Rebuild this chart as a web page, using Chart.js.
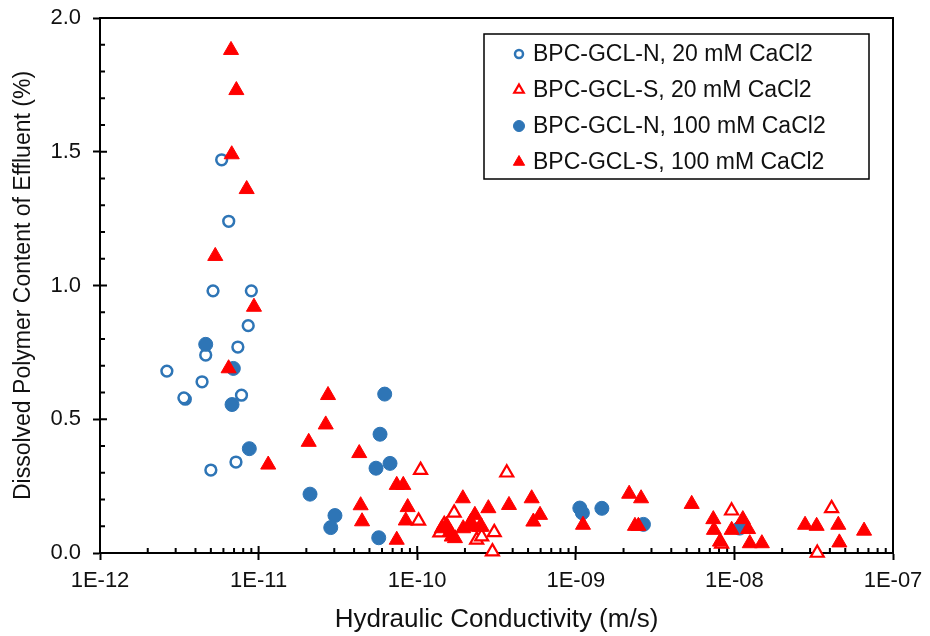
<!DOCTYPE html>
<html>
<head>
<meta charset="utf-8">
<script src="https://cdn.jsdelivr.net/npm/chart.js@4.4.1/dist/chart.umd.min.js"></script>
<style>
  html,body{margin:0;padding:0;background:#fff}
</style>
</head>
<body>
<canvas id="chart" width="930" height="636"></canvas>
<script>
// axis ticks
const xTickValues = [1e-12, 1e-11, 1e-10, 1e-9, 1e-8, 1e-7]
const xTickLabels = ["1E-12", "1E-11", "1E-10", "1E-09", "1E-08", "1E-07"]
const yTickValues = [0, 0.5, 1, 1.5, 2]
const yTickLabels = ["0.0", "0.5", "1.0", "1.5", "2.0"]

const seriesNames = [
  "BPC-GCL-N, 20 mM CaCl2",
  "BPC-GCL-S, 20 mM CaCl2",
  "BPC-GCL-N, 100 mM CaCl2",
  "BPC-GCL-S, 100 mM CaCl2"
]

// BPC-GCL-N, 20 mM
const n20K = [5.85e-12, 6.48e-12, 5.16e-12, 9.0e-12, 8.6e-12, 7.4e-12, 4.64e-12, 2.64e-12, 4.4e-12, 3.45e-12, 3.38e-12, 7.8e-12, 5.0e-12, 7.2e-12]
const n20P = [1.47, 1.24, 0.98, 0.98, 0.85, 0.77, 0.74, 0.68, 0.64, 0.575, 0.58, 0.59, 0.31, 0.34]

// BPC-GCL-S, 20 mM
const s20K = [1.05e-10, 3.67e-10, 1.71e-10, 1.02e-10, 3.06e-10, 1.48e-10, 1.39e-10, 2.37e-10, 2.55e-10, 2.98e-10, 2.49e-10, 9.6e-9, 8.3e-9, 3.33e-8, 4.1e-8]
const s20P = [0.31, 0.30, 0.15, 0.12, 0.077, 0.107, 0.076, 0.049, 0.061, 0.005, 0.098, 0.158, 0.034, 0.0, 0.167]

// BPC-GCL-N, 100 mM
const n100K = [4.64e-12, 6.93e-12, 6.8e-12, 8.74e-12, 2.11e-11, 3.03e-11, 2.85e-11, 5.72e-11, 6.24e-11, 5.83e-11, 5.5e-11, 6.74e-11, 1.06e-9, 1.1e-9, 1.46e-9, 2.67e-9, 1.08e-8]
const n100P = [0.78, 0.69, 0.555, 0.39, 0.22, 0.14, 0.095, 0.057, 0.594, 0.444, 0.317, 0.335, 0.168, 0.15, 0.167, 0.107, 0.093]

// BPC-GCL-S, 100 mM
const s100K = [6.70e-12, 7.24e-12, 6.77e-12, 8.41e-12, 5.33e-12, 9.35e-12, 6.47e-12, 1.15e-11, 2.74e-11, 2.65e-11, 2.07e-11, 4.31e-11, 4.40e-11, 4.49e-11,
  7.43e-11, 8.17e-11, 8.71e-11, 8.47e-11, 7.43e-11, 1.94e-10, 2.81e-10, 3.79e-10, 5.27e-10, 5.40e-10, 5.95e-10,
  1.43e-10, 1.53e-10, 1.61e-10, 1.65e-10, 1.73e-10, 1.95e-10, 2.18e-10, 2.31e-10, 2.23e-10, 2.55e-10,
  1.11e-9, 2.17e-9, 2.58e-9, 2.36e-9, 2.48e-9, 5.38e-9, 7.36e-9, 7.43e-9, 8.11e-9, 9.61e-9, 1.13e-8, 1.22e-8, 1.25e-8, 1.49e-8, 2.79e-8, 3.30e-8, 4.52e-8, 4.59e-8, 6.57e-8]
const s100P = [1.88, 1.73, 1.49, 1.36, 1.11, 0.92, 0.69, 0.33, 0.59, 0.48, 0.415, 0.373, 0.178, 0.118,
  0.254, 0.254, 0.171, 0.121, 0.049, 0.204, 0.167, 0.179, 0.204, 0.117, 0.142,
  0.092, 0.105, 0.080, 0.061, 0.055, 0.092, 0.117, 0.142, 0.098, 0.098,
  0.105, 0.221, 0.204, 0.101, 0.101, 0.183, 0.126, 0.086, 0.042, 0.086, 0.126, 0.089, 0.036, 0.036, 0.105, 0.101, 0.105, 0.039, 0.083]

const BLUE = "#2e75b6"
const RED = "#ff0000"
const TEXT = "#111"

Chart.defaults.font.family = "'Liberation Sans', Arial, sans-serif"

const pts = (xs, ys) => xs.map((x, i) => ({x: x, y: ys[i]}))

// inside minor ticks + top/right frame
const frame = {
  id: "frame",
  beforeDatasetsDraw(chart){
    const {ctx, chartArea: a, scales: {x, y}} = chart
    ctx.save()
    ctx.strokeStyle = "#000"
    ctx.lineWidth = 2
    ctx.beginPath()
    ctx.moveTo(a.left, a.top)
    ctx.lineTo(a.right, a.top)
    ctx.lineTo(a.right, a.bottom)
    for (let i = 0; i <= 20; i++){
      const py = y.getPixelForValue(i / 10)
      const len = i % 5 === 0 ? 7 : 5
      ctx.moveTo(a.left, py)
      ctx.lineTo(a.left + len, py)
    }
    for (let e = -12; e <= -7; e++){
      for (let m = 1; m <= 9; m++){
        if (e === -7 && m > 1) break
        const px = x.getPixelForValue(m * Math.pow(10, e))
        const len = m === 1 ? 7 : 5
        ctx.moveTo(px, a.bottom)
        ctx.lineTo(px, a.bottom - len)
      }
    }
    ctx.stroke()
    ctx.restore()
  }
}

// boxed legend inside the plot, top right
const boxLegend = {
  id: "boxLegend",
  afterDraw(chart){
    const {ctx, chartArea: a} = chart
    const left = a.right - 409, top = a.top + 16, w = 385, h = 145
    ctx.save()
    ctx.fillStyle = "#fff"
    ctx.fillRect(left, top, w, h)
    ctx.strokeStyle = "#000"
    ctx.lineWidth = 1.5
    ctx.strokeRect(left, top, w, h)
    ctx.font = "23px 'Liberation Sans', Arial, sans-serif"
    ctx.textBaseline = "middle"
    chart.data.datasets.forEach((ds, i) => {
      const cy = top + 20 + i * 36
      ctx.fillStyle = ds.backgroundColor
      ctx.strokeStyle = ds.borderColor
      ctx.lineWidth = ds.borderWidth
      Chart.helpers.drawPoint(ctx, {
        pointStyle: ds.pointStyle,
        radius: ds.legendRadius,
        borderWidth: ds.borderWidth,
        rotation: 0
      }, left + 35, cy)
      ctx.fillStyle = TEXT
      ctx.fillText(ds.label, left + 49, cy + 1)
    })
    ctx.restore()
  }
}

new Chart(document.getElementById("chart"), {
  type: "scatter",
  data: {
    datasets: [
      {label: seriesNames[0], data: pts(n20K, n20P), pointStyle: "circle", pointRadius: 5.4, borderWidth: 2.5,
        backgroundColor: "#fff", borderColor: BLUE, legendRadius: 4, order: 4, clip: false},
      {label: seriesNames[1], data: pts(s20K, s20P), pointStyle: "triangle", pointRadius: 7.5, borderWidth: 2.2,
        backgroundColor: "#fff", borderColor: RED, legendRadius: 5.5, order: 3, clip: false},
      {label: seriesNames[2], data: pts(n100K, n100P), pointStyle: "circle", pointRadius: 7, borderWidth: 1,
        backgroundColor: BLUE, borderColor: BLUE, legendRadius: 5.5, order: 2, clip: false},
      {label: seriesNames[3], data: pts(s100K, s100P), pointStyle: "triangle", pointRadius: 8.7, borderWidth: 1,
        backgroundColor: RED, borderColor: RED, legendRadius: 6.5, order: 1, clip: false}
    ]
  },
  options: {
    responsive: false,
    devicePixelRatio: 1,
    animation: false,
    layout: {padding: {left: 0, right: 37, top: 18, bottom: 0}},
    plugins: {legend: {display: false}, tooltip: {enabled: false}},
    scales: {
      x: {
        type: "logarithmic",
        min: 1e-12,
        max: 1e-7,
        afterBuildTicks: s => { s.ticks = xTickValues.map(v => ({value: v})) },
        afterFit: s => { s.height = 83; s.paddingLeft = 0; s.paddingRight = 0 },
        ticks: {callback: (v, i) => xTickLabels[i], autoSkip: false, maxRotation: 0, padding: 8,
          color: TEXT, font: {size: 22}},
        grid: {drawOnChartArea: false, tickLength: 7, tickWidth: 2, tickColor: "#000"},
        border: {color: "#000", width: 2},
        title: {display: true, text: "Hydraulic Conductivity (m/s)", color: TEXT, font: {size: 26},
          padding: {top: 0, bottom: 1}}
      },
      y: {
        min: 0,
        max: 2,
        afterBuildTicks: s => { s.ticks = yTickValues.map(v => ({value: v})) },
        afterFit: s => { s.width = 100; s.paddingTop = 0; s.paddingBottom = 0 },
        ticks: {callback: (v, i) => yTickLabels[i], padding: 12, color: TEXT, font: {size: 22}},
        grid: {drawOnChartArea: false, tickLength: 7, tickWidth: 2, tickColor: "#000"},
        border: {color: "#000", width: 2},
        title: {display: true, text: "Dissolved Polymer Content of Effluent (%)", color: TEXT, font: {size: 23},
          padding: {top: 10, bottom: 0}}
      }
    }
  },
  plugins: [frame, boxLegend]
})
</script>
</body>
</html>
